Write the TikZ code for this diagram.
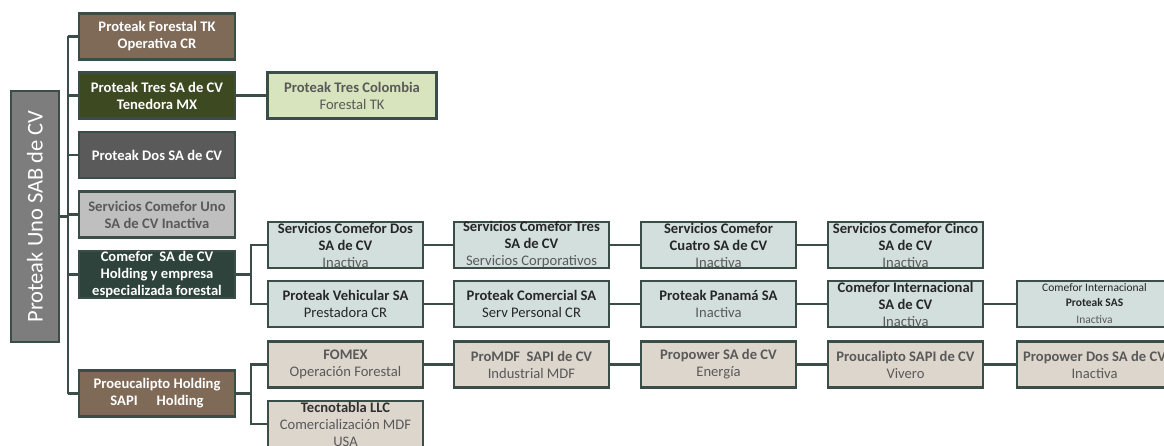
\documentclass[tikz,border=0pt]{standalone}
\usepackage{fontspec}
\setmainfont{Carlito}
\definecolor{bordc}{HTML}{3A4D47}
\definecolor{rootc}{HTML}{7D7D7D}
\definecolor{brownc}{HTML}{7F6A58}
\definecolor{olivec}{HTML}{3C4921}
\definecolor{dgrayc}{HTML}{5A5A5A}
\definecolor{lgrayc}{HTML}{BFBFBF}
\definecolor{tealc}{HTML}{2D433C}
\definecolor{lgreenc}{HTML}{D8E4BD}
\definecolor{lbluec}{HTML}{D2DFDD}
\definecolor{beigec}{HTML}{DDD6CD}
\definecolor{txtdark}{HTML}{262626}
\definecolor{txtgray}{HTML}{595959}
\tikzset{
  basebox/.style={draw=bordc, line width=2.4pt, inner sep=0pt, align=center,
    minimum height=46pt, font=\fontsize{14.6}{17}\selectfont},
  lvlone/.style={basebox, minimum width=155.5pt},
  lvltwo/.style={basebox, minimum width=155pt},
  darkbox/.style={text=white, font=\fontsize{14.6}{17}\selectfont\bfseries},
  bluebox/.style={lvltwo, fill=lbluec, text=txtdark},
  beigebox/.style={lvltwo, fill=beigec, text=txtgray},
  conn/.style={draw=bordc, line width=2.4pt}
}
\begin{document}
\begin{tikzpicture}[x=1pt,y=-1pt]
\useasboundingbox (0,0) rectangle (1164,446);
\clip (0,0) rectangle (1164,446);
% root
\node[draw=bordc, line width=2.4pt, fill=rootc, minimum width=47.5pt, minimum height=250.5pt, inner sep=0pt, text=white, font=\fontsize{22.5}{24}\selectfont] (root) at (35,216.5) {\rotatebox{90}{Proteak Uno SAB de CV}};
% level one
\node[lvlone, fill=brownc, darkbox] (b1) at (157,36.5) {Proteak Forestal TK\\Operativa CR};
\node[lvlone, fill=olivec, darkbox] (b2) at (157,95.5) {Proteak Tres SA de CV\\Tenedora MX};
\node[lvlone, fill=dgrayc, darkbox] (b3) at (157,155) {Proteak Dos SA de CV};
\node[lvlone, fill=lgrayc, text=txtgray, font=\fontsize{14.6}{17}\selectfont\bfseries] (b4) at (157,214.5) {Servicios Comefor Uno\\SA de CV Inactiva};
\node[lvlone, fill=tealc, darkbox] (b5) at (157,274.5) {Comefor\ \ SA de CV\\Holding y empresa\\especializada forestal};
\node[lvlone, fill=brownc, darkbox] (b6) at (157,393.5) {Proeucalipto Holding\\SAPI\hspace{1.3em}Holding};
% Tres Colombia
\node[lvlone, minimum width=169pt, fill=lgreenc, text=txtgray] (tc) at (352,95.5) {\textbf{Proteak Tres Colombia}\\Forestal TK};
% row A
\node[bluebox] (a1) at (345.5,245) {\textbf{Servicios Comefor Dos}\\\textbf{SA de CV}\\\textcolor{txtgray}{Inactiva}};
\node[bluebox] (a2) at (531.5,245) {\textbf{Servicios Comefor Tres}\\\textbf{SA de CV}\\\textcolor{txtgray}{Servicios Corporativos}};
\node[bluebox] (a3) at (718.5,245) {\textbf{Servicios Comefor}\\\textbf{Cuatro SA de CV}\\\textcolor{txtgray}{Inactiva}};
\node[bluebox] (a4) at (905.5,245) {\textbf{Servicios Comefor Cinco}\\\textbf{SA de CV}\\\textcolor{txtgray}{Inactiva}};
% row B
\node[bluebox] (v1) at (345.5,304) {\textbf{Proteak Vehicular SA}\\Prestadora CR};
\node[bluebox] (v2) at (531.5,304) {\textbf{Proteak Comercial SA}\\Serv Personal CR};
\node[bluebox] (v3) at (718.5,304) {\textbf{Proteak Panamá SA}\\\textcolor{txtgray}{Inactiva}};
\node[bluebox] (v4) at (905.5,304) {\textbf{Comefor Internacional}\\\textbf{SA de CV}\\\textcolor{txtgray}{Inactiva}};
\node[bluebox, font=\fontsize{11.5}{15}\selectfont] (v5) at (1094.5,304) {Comefor Internacional\\\textbf{Proteak SAS}\\[2pt]\textcolor{txtgray}{Inactiva}};
% row C
\node[beigebox] (p1) at (345.5,364.5) {\textbf{FOMEX}\\Operación Forestal};
\node[beigebox] (p2) at (531.5,364.5) {\textbf{ProMDF\ \ SAPI de CV}\\Industrial MDF};
\node[beigebox] (p3) at (718.5,364.5) {\textbf{Propower SA de CV}\\Energía};
\node[beigebox] (p4) at (905.5,364.5) {\textbf{Proucalipto SAPI de CV}\\Vivero};
\node[beigebox] (p5) at (1094.5,364.5) {\textbf{Propower Dos SA de CV}\\Inactiva};
% row D
\node[beigebox] (t1) at (345.5,424) {\textcolor{txtdark!80!txtgray}{\textbf{Tecnotabla LLC}}\\Comercialización MDF\\USA};
% trunk
\coordinate (tr) at (68,216.5);
\draw[conn] (root.east) -- (tr);
\draw[conn] (b1.west -| tr) -- (b6.west -| tr);
\foreach \b in {b1,b2,b3,b4,b5,b6} {\draw[conn] (\b.west -| tr) -- (\b.west);}
% Tres -> Colombia
\draw[conn] (b2.east) -- (tc.west);
% brackets
\coordinate (br) at (251,0);
\draw[conn] (b5.east) -- (b5.east -| br);
\draw[conn] (a1.west) -| (br |- v1.west) -- (v1.west);
\draw[conn] (b6.east) -- (b6.east -| br);
\draw[conn] (p1.west) -| (br |- t1.west) -- (t1.west);
% rows
\draw[conn] (a1) -- (a2); \draw[conn] (a2) -- (a3); \draw[conn] (a3) -- (a4);
\draw[conn] (v1) -- (v2); \draw[conn] (v2) -- (v3); \draw[conn] (v3) -- (v4); \draw[conn] (v4) -- (v5);
\draw[conn] (p1) -- (p2); \draw[conn] (p2) -- (p3); \draw[conn] (p3) -- (p4); \draw[conn] (p4) -- (p5);
\end{tikzpicture}
\end{document}
